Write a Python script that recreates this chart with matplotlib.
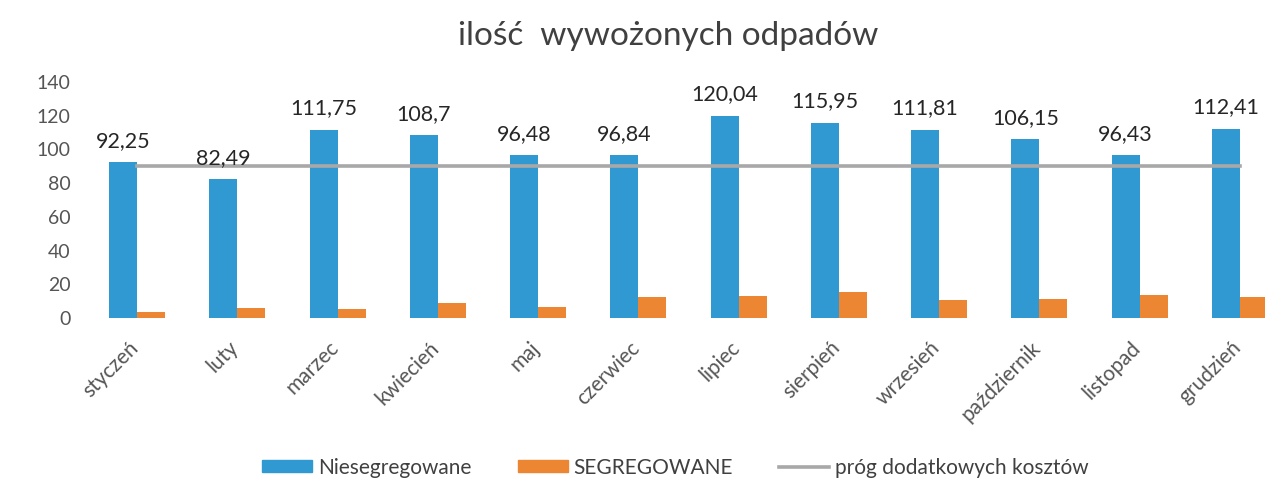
import matplotlib
matplotlib.use("Agg")
import matplotlib.pyplot as plt
import matplotlib.transforms as mtransforms
import numpy as np
from matplotlib.patches import Patch
from matplotlib.lines import Line2D

plt.rcParams['font.family'] = ['Lato', 'DejaVu Sans']

months = ["styczeń", "luty", "marzec", "kwiecień", "maj", "czerwiec",
          "lipiec", "sierpień", "wrzesień", "październik", "listopad", "grudzień"]
niesegregowane = [92.25, 82.49, 111.75, 108.7, 96.48, 96.84,
                  120.04, 115.95, 111.81, 106.15, 96.43, 112.41]
segregowane = [3.5, 5.7, 5.5, 9.0, 6.3, 12.4, 13.2, 15.2, 10.4, 11.0, 13.8, 12.4]
prog = [90] * 12
y_ticks = [0, 20, 40, 60, 80, 100, 120, 140]

blue = "#3199d2"
orange = "#ec8633"
gray = "#a8a8a8"

fig = plt.figure(figsize=(12.65, 4.82), dpi=100)
ax = fig.add_axes([87 / 1265, 164 / 482, 1203 / 1265, 236 / 482])

x = np.arange(len(months))
w = 0.28
ax.bar(x - w / 2, niesegregowane, width=w, color=blue, zorder=2)
ax.bar(x + w / 2, segregowane, width=w, color=orange, zorder=2)
ax.plot(x, prog, color=gray, lw=2.6, zorder=3)

for xi, v in zip(x, niesegregowane):
    ax.annotate(f"{v:g}".replace(".", ","), (xi - w / 2, v), xytext=(0, 8),
                textcoords="offset points", ha="center", va="bottom",
                fontsize=15.5, color="#262626")

ax.set_xlim(-0.5, len(months) - 0.5)
ax.set_ylim(0, 140)
ax.set_yticks(y_ticks)
ax.set_yticklabels([str(t) for t in y_ticks])
ax.set_xticks(x)
ax.set_xticklabels(months, rotation=45, ha="right", va="top")
ax.tick_params(axis="y", length=0, pad=12, labelsize=14, labelcolor="#555555")
ax.tick_params(axis="x", length=0, pad=14, labelsize=15, labelcolor="#555555")
shift = mtransforms.ScaledTranslation(5 / 100, 0, fig.dpi_scale_trans)
for lbl in ax.get_xticklabels():
    lbl.set_transform(lbl.get_transform() + shift)
for s in ax.spines.values():
    s.set_visible(False)

fig.text(0.528, 0.925, "ilość  wywożonych odpadów", ha="center", va="center",
         fontsize=24, color="#404040")

handles = [Patch(color=blue), Patch(color=orange), Line2D([0], [0], color=gray, lw=2.6)]
labels = ["Niesegregowane", "SEGREGOWANE", "próg dodatkowych kosztów"]
fig.legend(handles, labels, loc="center", bbox_to_anchor=(0.534, 0.03), ncol=3,
           frameon=False, fontsize=15, handlelength=2.4, handleheight=0.5,
           handletextpad=0.3, columnspacing=2.2, labelcolor="#404040")

fig.savefig("out.png", dpi=100)
